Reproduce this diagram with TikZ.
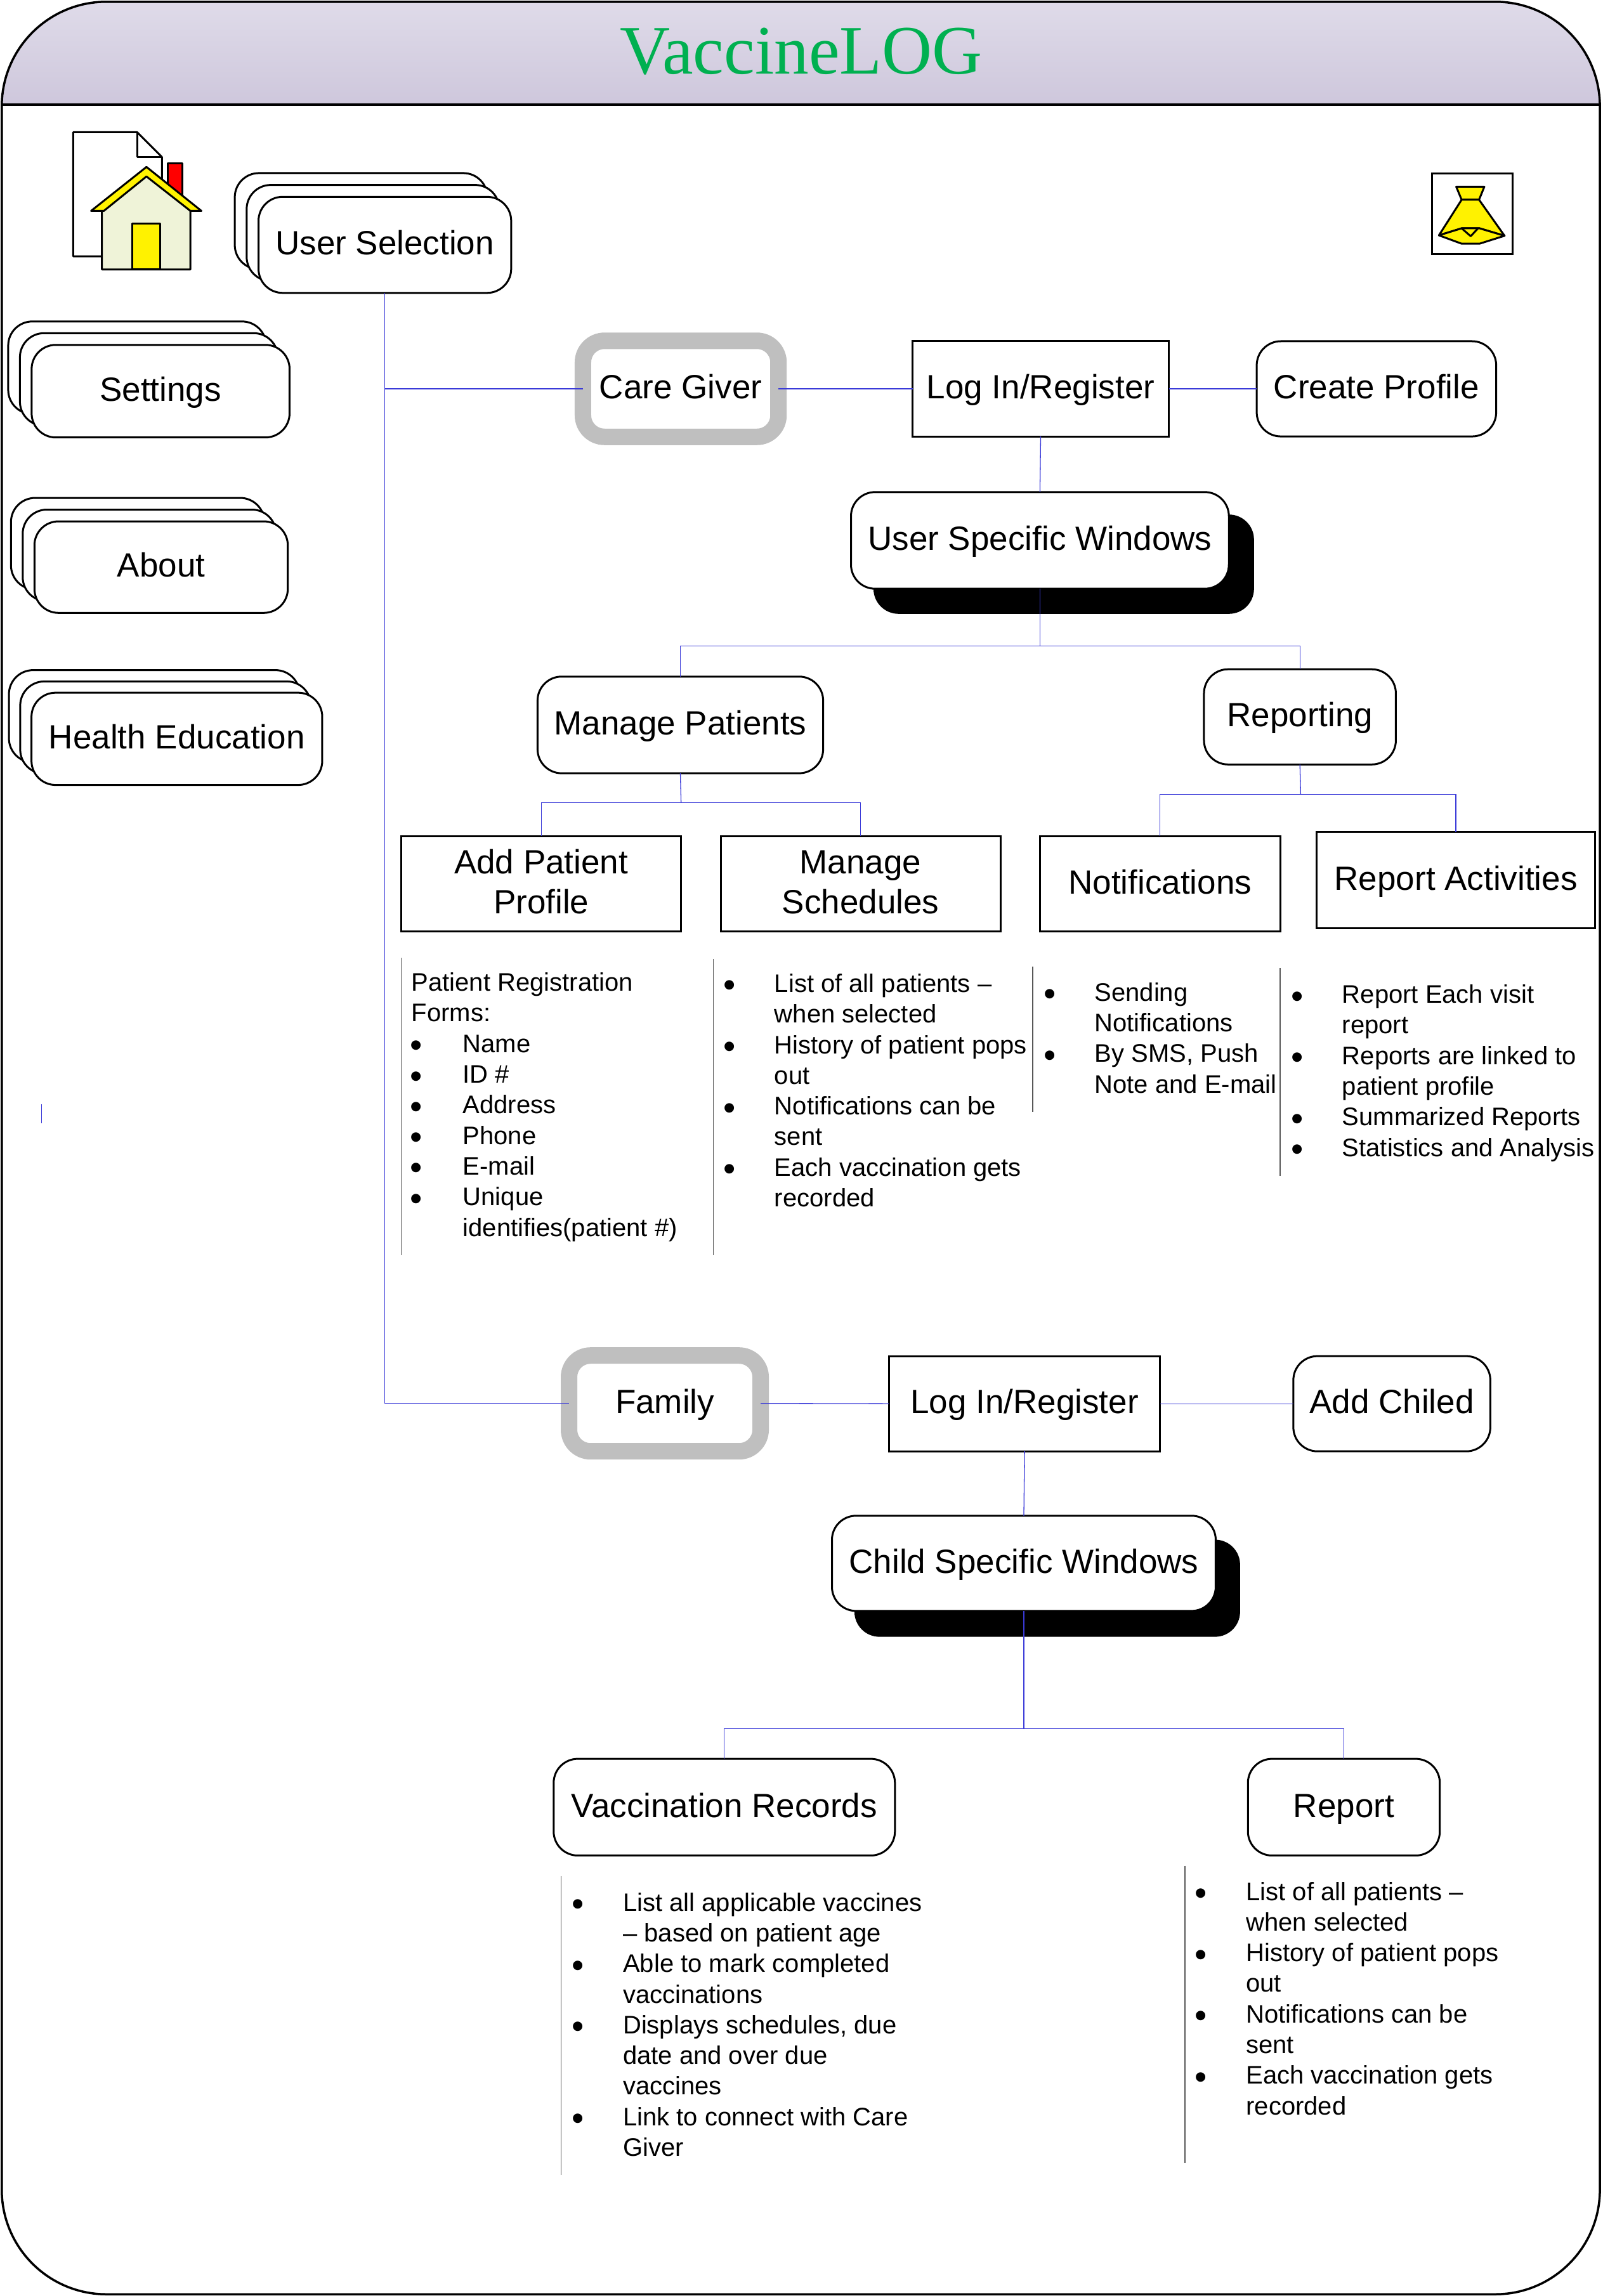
\documentclass[tikz,border=0pt]{standalone}
\usepackage{fontspec}
\setmainfont{Liberation Sans}
\newfontfamily\titlefont{Liberation Serif}
\definecolor{conn}{HTML}{3A3AD8}
\definecolor{rulegray}{HTML}{585858}
\definecolor{ringgray}{HTML}{BFBFBF}
\definecolor{hdtop}{HTML}{DFDBE9}
\definecolor{hdbot}{HTML}{CEC7DC}
\definecolor{titlegreen}{HTML}{00B050}
\definecolor{housebody}{HTML}{EFF3D8}
\tikzset{
  base/.style={draw=black,fill=white,line width=3pt,inner sep=0pt,outer sep=0pt,align=center,
     font=\fontsize{53}{63.5}\selectfont,text height=44pt,text depth=12.6pt},
  rbox/.style={base,rounded corners=38pt},
  sbox/.style={base},
  twoline/.style={base,text height=107.3pt},
  ring/.style={base,draw=ringgray,line width=26pt,rounded corners=34pt},
  shadowbox/.style={base,fill=black,rounded corners=38pt},
  link/.style={draw=conn,line width=1.3pt},
  vrule/.style={draw=rulegray,line width=1.5pt},
  note/.style={anchor=north west,inner sep=0pt,outer sep=0pt,align=left,
     font=\fontsize{40}{48.3}\selectfont},
  icon/.style={draw=black,line width=3pt,line join=round},
}
\newcommand\bx[7]{%
  \pgfmathsetmacro\bw{(#5-#3)*2.30896}%
  \pgfmathsetmacro\bh{(#6-#4)*2.30896}%
  \node[#1,minimum width=\bw pt,minimum height=\bh pt] (#2) at ({(#3+#5)/2},{(#4+#6)/2}) {#7};}
\newcommand\stk[7]{% name, x1,y1,x2,y2, offset, text
  \pgfmathsetmacro\xa{#2-2*#6}\pgfmathsetmacro\ya{#3-2*#6}\pgfmathsetmacro\xb{#4-2*#6}\pgfmathsetmacro\yb{#5-2*#6}%
  \bx{rbox}{#1back}{\xa}{\ya}{\xb}{\yb}{}%
  \pgfmathsetmacro\xa{#2-#6}\pgfmathsetmacro\ya{#3-#6}\pgfmathsetmacro\xb{#4-#6}\pgfmathsetmacro\yb{#5-#6}%
  \bx{rbox}{#1mid}{\xa}{\ya}{\xb}{\yb}{}%
  \bx{rbox}{#1}{#2}{#3}{#4}{#5}{#7}}
\newcommand\bul{\hspace*{-2.5pt}\raisebox{-7.5pt}{\fontsize{55}{55}\selectfont\textbullet}}
\newcommand\li[1]{\makebox[78pt][l]{\bul}#1}
\newcommand\co[1]{\makebox[78pt][l]{}#1}
\newcommand\lia[1]{\makebox[81pt][l]{\bul}#1}
\begin{document}
\begin{tikzpicture}[x=2.30896pt,y=-2.30896pt]
\useasboundingbox (0,0) rectangle (1094,1567.8);
% frame and header
\shade[top color=hdtop,bottom color=hdbot,rounded corners=165pt]
  (1.2,71.5) -- (1.2,1.2) -- (1092.3,1.2) [sharp corners] -- (1092.3,71.5) -- cycle;
\draw[line width=3.5pt,rounded corners=165pt] (1.2,1.2) rectangle (1092.3,1566.6);
\draw[line width=3.5pt] (1.2,71.5) -- (1092.3,71.5);
\node[inner sep=0pt,font=\titlefont\fontsize{109.5}{120}\selectfont,text=titlegreen] (title) at (547,35) {VaccineLOG};
% home icon
\draw[icon,fill=white] (50,90.3) -- (93.7,90.3) -- (110.6,107.3) -- (110.6,175) -- (50,175) -- cycle;
\draw[icon] (93.7,90.3) -- (93.7,107.3) -- (110.6,107.3);
\draw[icon,fill=red] (114.6,111.6) rectangle (124.6,135);
\draw[icon,fill=housebody] (69.6,144) -- (100,118) -- (130,144) -- (130,184) -- (69.6,184) -- cycle;
\draw[icon,fill=yellow] (100,114) -- (137.5,144) -- (130,144) -- (100,120.5) -- (70.9,144) -- (62.2,144) -- cycle;
\draw[icon,fill=yellow] (90.5,152.7) rectangle (109.4,184);
% bell icon
\node[draw=black,line width=3pt,fill=white,inner sep=0pt,outer sep=0pt,minimum width=127pt,minimum height=127pt] (bellbox) at (1005.3,146) {};
\draw[icon,fill=yellow] (994.2,127.5) -- (1013.4,127.5) -- (1009.8,136.4) -- (997.9,136.4) -- cycle;
\draw[icon,fill=yellow] (997.9,136.4) -- (1009.8,136.4) -- (1027.2,161) -- (1010.1,155.9) -- (997.9,155.9) -- (982.4,160.7) -- cycle;
\draw[icon,fill=yellow] (982.4,160.7) -- (997.9,166.4) -- (1010.1,166.4) -- (1027.2,161) -- (1010.1,155.9) -- (997.9,155.9) -- cycle;
\draw[icon] (997.9,155.9) -- (1004.1,161.3) -- (1009.1,155.9);
% stacks
\stk{user}{176.5}{134.4}{349}{200}{8.1}{User Selection}
\stk{settings}{21.6}{235.5}{197.7}{298.7}{8}{Settings}
\stk{about}{23.5}{356}{196.5}{418.5}{8}{About}
\stk{health}{21.5}{473}{220}{536}{7.7}{Health Education}
% care giver branch
\bx{ring}{care}{398}{232.7}{531.5}{298.3}{Care Giver}
\bx{sbox}{login}{623}{233}{798}{298}{Log In/Register}
\bx{rbox}{create}{858}{233}{1021.5}{298}{Create Profile}
\bx{shadowbox}{uswshadow}{597}{352}{855.5}{418.5}{}
\bx{rbox}{usw}{581}{336}{839}{402}{User Specific Windows}
\bx{rbox}{manage}{367}{462}{562}{528}{Manage Patients}
\bx{rbox}{reporting}{822}{457}{953}{522}{Reporting}
\bx{twoline}{addpat}{274}{571}{465}{636}{Add Patient\\Profile}
\bx{twoline}{sched}{492}{571}{683}{636}{Manage\\Schedules}
\bx{sbox}{notif}{710}{571}{874}{636}{Notifications}
\bx{sbox}{repact}{899}{568}{1089}{634}{Report Activities}
% family branch
\bx{ring}{family}{388.5}{925.6}{519.3}{991}{Family}
\bx{sbox}{logintwo}{607}{926}{792}{991}{Log In/Register}
\bx{rbox}{addchild}{883}{926}{1017.5}{991}{Add Chiled}
\bx{shadowbox}{cswshadow}{584}{1052}{846}{1117}{}
\bx{rbox}{csw}{568}{1035}{830}{1100}{Child Specific Windows}
\bx{rbox}{vacc}{378}{1201}{611}{1267}{Vaccination Records}
\bx{rbox}{report}{852}{1201}{983}{1267}{Report}
% connectors
\coordinate (forka) at (710,441);
\coordinate (forkb) at (465,548);
\coordinate (forkc) at (888,542.5);
\coordinate (forkd) at (699,1180.3);
\path[link] (user.south) |- (care.west);
\path[link] (user.south) |- (family.west);
\path[link] (care.east) -- (login.west);
\path[link] (login.east) -- (create.west);
\path[link] (login.south) -- (usw.north);
\path[link] (usw.south) -- (forka);
\path[link] (forka) -| (manage.north);
\path[link] (forka) -| (reporting.north);
\path[link] (manage.south) -- (forkb);
\path[link] (forkb) -| (addpat.north);
\path[link] (forkb) -| (sched.north);
\path[link] (reporting.south) -- (forkc);
\path[link] (forkc) -| (notif.north);
\path[link] (forkc) -| (repact.north);
\path[link] (family.east) -- (logintwo.west);
\path[link] (logintwo.east) -- (addchild.west);
\path[link] (logintwo.south) -- (csw.north);
\path[link] (csw.south) -- (forkd);
\path[link] (forkd) -| (vacc.north);
\path[link] (forkd) -| (report.north);
% side rules
\draw[vrule] (274,654) -- (274,857);
\draw[vrule] (487,655) -- (487,857);
\draw[vrule] (705,660) -- (705,759);
\draw[vrule] (874,661) -- (874,803);
\draw[vrule] (383,1281) -- (383,1485);
\draw[vrule] (809,1274) -- (809,1477);
\draw[link] (28.5,754) -- (28.5,767);
% notes
\node[note] (notea) at (281,664.2) {Patient Registration\\Forms:\\\lia{Name}\\\lia{ID \#}\\\lia{Address}\\\lia{Phone}\\\lia{E-mail}\\\lia{Unique}\\\makebox[81pt][l]{}identifies(patient \#)};
\node[note] (noteb) at (495,665) {\li{List of all patients --}\\\co{when selected}\\\li{History of patient pops}\\\co{out}\\\li{Notifications can be}\\\co{sent}\\\li{Each vaccination gets}\\\co{recorded}};
\node[note] (notec) at (713.6,671) {\li{Sending}\\\co{Notifications}\\\li{By SMS, Push}\\\co{Note and E-mail}};
\node[note] (noted) at (882.6,672.4) {\li{Report Each visit}\\\co{report}\\\li{Reports are linked to}\\\co{patient profile}\\\li{Summarized Reports}\\\li{Statistics and Analysis}};
\node[note] (notee) at (391.6,1292.4) {\li{List all applicable vaccines}\\\co{-- based on patient age}\\\li{Able to mark completed}\\\co{vaccinations}\\\li{Displays schedules, due}\\\co{date and over due}\\\co{vaccines}\\\li{Link to connect with Care}\\\co{Giver}};
\node[note] (notef) at (817,1285) {\li{List of all patients --}\\\co{when selected}\\\li{History of patient pops}\\\co{out}\\\li{Notifications can be}\\\co{sent}\\\li{Each vaccination gets}\\\co{recorded}};
\end{tikzpicture}
\end{document}
